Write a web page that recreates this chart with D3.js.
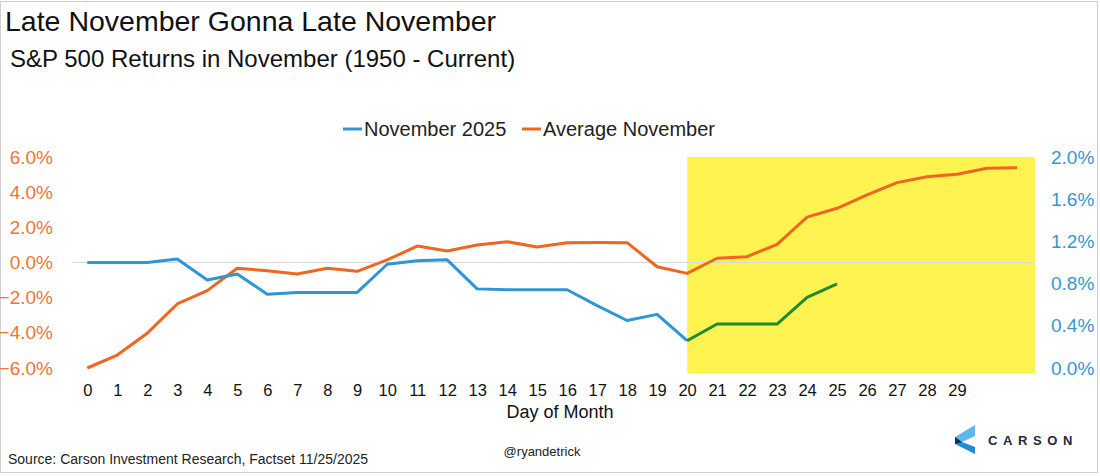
<!DOCTYPE html>
<html><head><meta charset="utf-8">
<script src="https://cdn.jsdelivr.net/npm/d3@7"></script>
<style>
html,body{margin:0;padding:0;background:#fff;}
svg{display:block;font-family:"Liberation Sans",Arial,sans-serif;}
</style></head>
<body>
<svg id="chart" width="1100" height="476"></svg>
<script>
// ---- data ----
const days = [0,1,2,3,4,5,6,7,8,9,10,11,12,13,14,15,16,17,18,19,20,21,22,23,24,25,26,27,28,29,30,31];
const dayLabels = ["0","1","2","3","4","5","6","7","8","9","10","11","12","13","14","15","16","17","18","19","20","21","22","23","24","25","26","27","28","29","",""];
// November 2025 (left axis), days 0-25
const nov2025 = [0,0,0,0.2,-1.0,-0.65,-1.8,-1.7,-1.7,-1.7,-0.1,0.1,0.15,-1.5,-1.55,-1.55,-1.55,-2.45,-3.3,-2.95,-4.45,-3.5,-3.5,-3.5,-1.98,-1.22];
// Average November (right axis), days 0-31
const avgNov = [0,0.123,0.33,0.607,0.733,0.945,0.922,0.891,0.945,0.916,1.024,1.156,1.109,1.166,1.197,1.147,1.188,1.19,1.188,0.96,0.897,1.04,1.055,1.172,1.43,1.514,1.64,1.757,1.813,1.836,1.893,1.898];
const highlightStart = 20;
const leftTicks = [-6,-4,-2,0,2,4,6];
const rightTicks = [0,0.4,0.8,1.2,1.6,2.0];
const seriesNames = ["November 2025","Average November"];

// ---- layout ----
const svg = d3.select("#chart");
const C = {blue:"#2E96D3", orange:"#F0651F", green:"#1E8C2E", yellow:"#FFF352",
           leftTxt:"#EE7535", rightTxt:"#3597D2", zero:"#D8D8D8"};
const plot = {l:72, r:1035, t:157, b:373};
const x = d3.scaleLinear().domain([0,31]).range([87.3,1017]);
const yL = d3.scaleLinear().domain([-6,6]).range([368,157]);
const yR = d3.scaleLinear().domain([0,2]).range([368,157]);

// frame
svg.append("rect").attr("x",0.5).attr("y",1.5).attr("width",1097).attr("height",471)
  .attr("fill","none").attr("stroke","#d0d0d0");

// titles
svg.append("text").attr("x",5).attr("y",31).attr("font-size",28.5).attr("fill","#111")
  .text("Late November Gonna Late November");
svg.append("text").attr("x",10).attr("y",67).attr("font-size",24).attr("fill","#111")
  .text("S&P 500 Returns in November (1950 - Current)");

// highlight
svg.append("rect").attr("x",x(highlightStart)).attr("y",plot.t)
  .attr("width",plot.r - x(highlightStart)).attr("height",plot.b-plot.t).attr("fill",C.yellow);

// zero line
svg.append("line").attr("x1",plot.l).attr("x2",plot.r).attr("y1",yL(0)).attr("y2",yL(0))
  .attr("stroke",C.zero).attr("stroke-width",1);

// axes
const axL = svg.append("g").attr("transform",`translate(${plot.l},0)`)
  .call(d3.axisLeft(yL).tickValues(leftTicks).tickSize(0).tickPadding(19)
    .tickFormat(d=>d3.format(".1f")(d)+"%"));
const axR = svg.append("g").attr("transform",`translate(${plot.r},0)`)
  .call(d3.axisRight(yR).tickValues(rightTicks).tickSize(0).tickPadding(16)
    .tickFormat(d=>d3.format(".1f")(d)+"%"));
const axB = svg.append("g").attr("transform",`translate(0,${375})`)
  .call(d3.axisBottom(x).tickValues(days).tickSize(0).tickPadding(9)
    .tickFormat((d,i)=>dayLabels[i]));
[axL,axR,axB].forEach(a=>{a.select(".domain").remove(); a.selectAll("text").attr("font-family","'Liberation Sans',Arial,sans-serif");});
axL.selectAll("text").attr("font-size",19).attr("fill",C.leftTxt);
axR.selectAll("text").attr("font-size",19).attr("fill",C.rightTxt);
axB.selectAll("text").attr("font-size",16.5).attr("fill","#111");

svg.append("text").attr("x",560).attr("y",418).attr("text-anchor","middle")
  .attr("font-size",18).attr("fill","#111").text("Day of Month");

// lines
const avgLine = d3.line().x((d,i)=>x(days[i])).y(d=>yR(d));
svg.append("path").datum(avgNov).attr("d",avgLine).attr("fill","none")
  .attr("stroke",C.orange).attr("stroke-width",3).attr("stroke-linejoin","round");
const nov = nov2025.map((v,i)=>({d:days[i],v}));
const lineN = d3.line().x(p=>x(p.d)).y(p=>yL(p.v));
svg.append("path").datum(nov.filter(p=>p.d<=highlightStart)).attr("d",lineN).attr("fill","none")
  .attr("stroke",C.blue).attr("stroke-width",3).attr("stroke-linejoin","round");
svg.append("path").datum(nov.filter(p=>p.d>=highlightStart)).attr("d",lineN).attr("fill","none")
  .attr("stroke",C.green).attr("stroke-width",3).attr("stroke-linejoin","round");

// legend
const leg = [{name:seriesNames[0],c:C.blue,x:343},{name:seriesNames[1],c:C.orange,x:522}];
leg.forEach(g=>{
  svg.append("line").attr("x1",g.x).attr("x2",g.x+19).attr("y1",129).attr("y2",129)
    .attr("stroke",g.c).attr("stroke-width",3);
  svg.append("text").attr("x",g.x+21).attr("y",136).attr("font-size",20).attr("fill","#222").text(g.name);
});

// footer
svg.append("text").attr("x",8).attr("y",464).attr("font-size",14).attr("fill","#222")
  .text("Source: Carson Investment Research, Factset 11/25/2025");
svg.append("text").attr("x",542).attr("y",456).attr("text-anchor","middle").attr("font-size",13).attr("fill","#222")
  .text("@ryandetrick");

// logo
const lg = svg.append("g");
lg.append("polygon").attr("points","975,425 975,436 962,442 955,437").attr("fill","#5CB8EC");
lg.append("polygon").attr("points","955,437 962,442 975,447 975,454 955,444").attr("fill","#1D8ED8");
lg.append("polygon").attr("points","955,437 962,442 955,444").attr("fill","#1B2A3F");
lg.append("text").attr("x",988).attr("y",445).attr("font-size",13).attr("font-weight","bold")
  .attr("letter-spacing",5.6).attr("fill","#1F2A3C").text("CARSON");
</script>
</body></html>
